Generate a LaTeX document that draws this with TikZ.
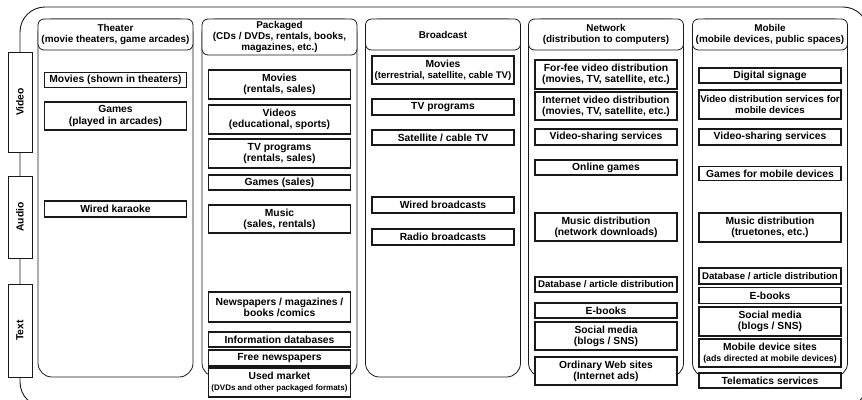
\documentclass[tikz,border=0pt]{standalone}
\usepackage{fontspec}
\setmainfont{Liberation Sans}
\begin{document}
\begin{tikzpicture}[x=1pt,y=-1pt,
  frame/.style={draw=black!90, line width=0.9pt, rounded corners=25pt},
  col/.style={draw=black!90, line width=0.8pt, rounded corners=14pt, minimum width=155pt, minimum height=358pt, inner sep=0pt},
  hdr/.style={draw=black!90, fill=white, line width=0.8pt, rounded corners=6pt, minimum width=155pt, inner sep=0pt, align=center, font=\fontsize{9.9}{10.6}\selectfont\bfseries},
  bx/.style={draw=black!90, fill=white, line width=1.1pt, inner sep=0pt, align=center, font=\fontsize{10.3}{11.2}\selectfont\bfseries, minimum width=142pt},
  tight/.style={font=\fontsize{9.7}{11}\selectfont\bfseries},
  lbl/.style={draw=black!90, fill=white, line width=0.9pt, rotate=90, inner sep=0pt, minimum height=24pt, font=\fontsize{10.3}{12}\selectfont\bfseries}
]
\useasboundingbox (0,0) rectangle (862,399);
% outer frame
\begin{scope}
\clip (0,0) rectangle (862,399);
\draw[frame] (20,7) rectangle (868,407);
\end{scope}
% side labels
\node[lbl, minimum width=100pt] (lv) at (20,102) {Video};
\node[lbl, minimum width=82pt] (la) at (20,217) {Audio};
\node[lbl, minimum width=93pt] (lt) at (20,330.5) {Text};
% columns
\node[col] (cT) at (115.5,198) {};
\node[col] (cP) at (279.5,198) {};
\node[col] (cB) at (443,198) {};
\node[col] (cN) at (606,198) {};
\node[col] (cM) at (770,198) {};
% headers
\node[hdr, minimum height=31pt] (hT) at (115.5,34.5) {Theater\\(movie theaters, game arcades)};
\node[hdr, minimum height=36pt] (hP) at (279.5,37) {Packaged\\(CDs / DVDs, rentals, books,\\magazines, etc.)};
\node[hdr, minimum height=31pt] (hB) at (443,34.5) {Broadcast};
\node[hdr, minimum height=31pt] (hN) at (606,34.5) {Network\\(distribution to computers)};
\node[hdr, minimum height=31pt] (hM) at (770,34.5) {Mobile\\(mobile devices, public spaces)};
% Theater
\node[bx, minimum height=15pt] (t1) at (115.5,80) {Movies (shown in theaters)};
\node[bx, minimum height=28pt] (t2) at (115.5,116) {Games\\(played in arcades)};
\node[bx, minimum height=16pt] (t3) at (115.5,209) {Wired karaoke};
% Packaged
\node[bx, minimum height=29pt] (p1) at (279.5,84.5) {Movies\\(rentals, sales)};
\node[bx, minimum height=29pt] (p2) at (279.5,119.5) {Videos\\(educational, sports)};
\node[bx, minimum height=29pt] (p3) at (279.5,153.5) {TV programs\\(rentals, sales)};
\node[bx, minimum height=15pt] (p4) at (279.5,182.5) {Games (sales)};
\node[bx, minimum height=28pt] (p5) at (279.5,219) {Music\\(sales, rentals)};
\node[bx, minimum height=30pt] (p6) at (279.5,307) {Newspapers / magazines /\\books /comics};
\node[bx, minimum height=15pt] (p7) at (279.5,339.5) {Information databases};
\node[bx, minimum height=16pt] (p8) at (279.5,358) {Free newspapers};
\node[bx, minimum height=29pt] (p9) at (279.5,382.5) {Used market\\{\fontsize{8}{9}\selectfont (DVDs and other packaged formats)}};
% Broadcast
\node[bx, minimum height=28pt] (b1) at (443,70) {Movies\\{\fontsize{9.6}{11}\selectfont (terrestrial, satellite, cable TV)}};
\node[bx, minimum height=16pt] (b2) at (443,107) {TV programs};
\node[bx, minimum height=15pt] (b3) at (443,137.5) {Satellite / cable TV};
\node[bx, minimum height=16pt] (b4) at (443,205) {Wired broadcasts};
\node[bx, minimum height=16pt] (b5) at (443,237) {Radio broadcasts};
% Network
\node[bx, minimum height=29pt] (n1) at (606,74.5) {For-fee video distribution\\(movies, TV, satellite, etc.)};
\node[bx, minimum height=28pt] (n2) at (606,106) {Internet video distribution\\(movies, TV, satellite, etc.)};
\node[bx, minimum height=16pt] (n3) at (606,137) {Video-sharing services};
\node[bx, minimum height=15pt] (n4) at (606,167.5) {Online games};
\node[bx, minimum height=28pt] (n5) at (606,227) {Music distribution\\(network downloads)};
\node[bx, tight, minimum height=15pt] (n6) at (606,284.5) {Database / article distribution};
\node[bx, minimum height=15pt] (n7) at (606,310.5) {E-books};
\node[bx, minimum height=28pt] (n8) at (606,336) {Social media\\(blogs / SNS)};
\node[bx, minimum height=28pt] (n9) at (606,371) {Ordinary Web sites\\(Internet ads)};
% Mobile
\node[bx, minimum height=15pt] (m1) at (770,75.5) {Digital signage};
\node[bx, tight, minimum height=29pt] (m2) at (770,104.5) {Video distribution services for\\mobile devices};
\node[bx, minimum height=16pt] (m3) at (770,137) {Video-sharing services};
\node[bx, minimum height=14pt] (m4) at (770,173.5) {Games for mobile devices};
\node[bx, minimum height=29pt] (m5) at (770,227.5) {Music distribution\\(truetones, etc.)};
\node[bx, tight, minimum height=16pt] (m6) at (770,276) {Database / article distribution};
\node[bx, minimum height=16pt] (m7) at (770,295.5) {E-books};
\node[bx, minimum height=29pt] (m8) at (770,321.5) {Social media\\(blogs / SNS)};
\node[bx, minimum height=28pt] (m9) at (770,353) {Mobile device sites\\{\fontsize{8.8}{10}\selectfont (ads directed at mobile devices)}};
\node[bx, minimum height=15pt] (m10) at (770,380.5) {Telematics services};
\end{tikzpicture}
\end{document}
